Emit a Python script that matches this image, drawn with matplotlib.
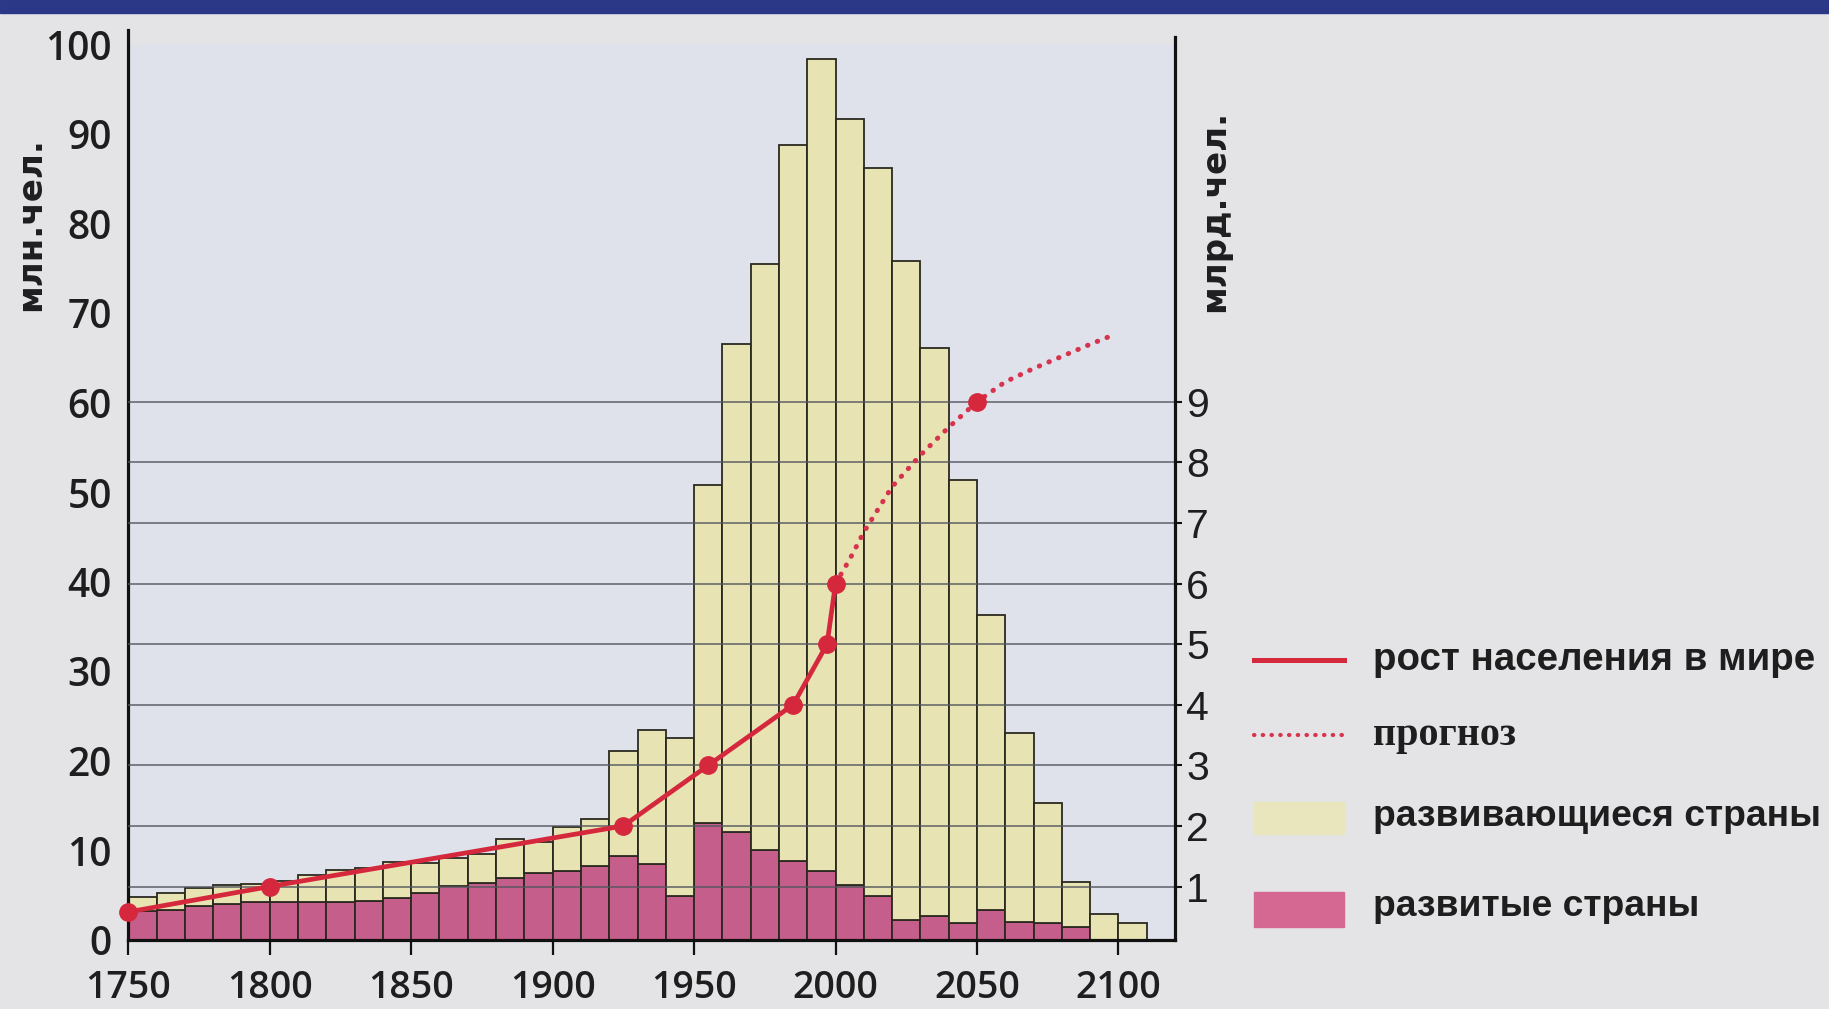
import matplotlib
matplotlib.use("Agg")
import matplotlib.pyplot as plt
from matplotlib.lines import Line2D
from matplotlib.patches import Rectangle

# ---------------- data ----------------
decades = list(range(1750, 2101, 10))
# average yearly growth per decade, million people (top of stacked bar)
total_growth = [4.8, 5.3, 5.8, 6.1, 6.3, 6.6, 7.3, 7.8, 8.0, 8.7,
                8.6, 9.2, 9.6, 11.3, 11.0, 12.6, 13.5, 21.1, 23.5, 22.6,
                50.8, 66.6, 75.5, 88.8, 98.4, 91.7, 86.3, 75.9, 66.1, 51.4,
                36.3, 23.1, 15.3, 6.5, 2.95, 1.85]
developed_growth = [3.2, 3.4, 3.8, 4.0, 4.3, 4.3, 4.3, 4.3, 4.4, 4.7,
                    5.3, 6.0, 6.4, 6.9, 7.5, 7.7, 8.3, 9.4, 8.5, 4.9,
                    13.1, 12.1, 10.1, 8.8, 7.7, 6.1, 4.9, 2.2, 2.7, 1.95,
                    3.3, 2.0, 1.85, 1.5, 0.0, 0.0]
developing_growth = [t - d for t, d in zip(total_growth, developed_growth)]

# world population, billion people
hist_years = [1750, 1800, 1925, 1955, 1985, 1997, 2000]
hist_pop = [0.58, 1.0, 2.0, 3.0, 4.0, 5.0, 6.0]
fc_years = [2000, 2005, 2010, 2020, 2030, 2040, 2050, 2060, 2070, 2080, 2090, 2098]
fc_pop = [6.0, 6.4, 6.85, 7.6, 8.12, 8.58, 9.0, 9.33, 9.55, 9.75, 9.95, 10.1]
fc_mark_years = [2050]
fc_mark_pop = [9.0]

left_ticks = list(range(0, 101, 10))
right_ticks = list(range(1, 10))
x_ticks = list(range(1750, 2101, 50))

left_title = "млн.чел."
right_title = "млрд.чел."
legend_labels = ["рост населения в мире", "прогноз",
                 "развивающиеся страны", "развитые страны"]

# ---------------- style ----------------
W, H = 1829, 1009
FIG_BG = "#e4e4e7"
AX_BG = "#dfe2ea"
YELLOW = "#e8e3b3"
PINK = "#c65e8c"
EDGE = "#2a2920"
RED = "#d5283d"
RED_DOT = "#d8334d"
NAVY = "#2b3887"
TXT = "#1e1e1e"

def fx(px):
    return px / W

def fy(py):
    return 1 - py / H

fig = plt.figure(figsize=(W / 100, H / 100), dpi=100, facecolor=FIG_BG)
x0, x1, ybot, ytop = 128.3, 1175, 940, 45
ax = fig.add_axes([fx(x0), fy(ybot), fx(x1 - x0), (ybot - ytop) / H])
ax.set_facecolor(AX_BG)

ax.bar(decades, developed_growth, width=10, align="edge", color=PINK,
       edgecolor=EDGE, linewidth=1.3, zorder=2)
ax.bar(decades, developing_growth, width=10, align="edge", bottom=developed_growth,
       color=YELLOW, edgecolor=EDGE, linewidth=1.3, zorder=2)

ax.set_xlim(1750, 2120)
ax.set_ylim(0, 100)

num_font = ["Open Sans", "DejaVu Sans"]
ax.set_yticks(left_ticks, labels=[str(v) for v in left_ticks],
              fontfamily=num_font, fontweight="semibold", fontsize=28, color=TXT)
ax.set_xticks(x_ticks, labels=[str(v) for v in x_ticks],
              fontfamily=num_font, fontweight="semibold", fontsize=27, color=TXT)
ax.tick_params(axis="y", length=0, pad=12)
ax.tick_params(axis="x", length=11, width=1.6, color="#111111", direction="out", pad=10)

for s in ["top", "right"]:
    ax.spines[s].set_visible(False)
ax.spines["left"].set_linewidth(2.3)
ax.spines["bottom"].set_linewidth(2.3)
ax.spines["left"].set_color("#111111")
ax.spines["bottom"].set_color("#111111")
ax.spines["left"].set_bounds(0, 101.7)

ax.set_ylabel(left_title, fontfamily=["DejaVu Sans"], fontweight="bold",
              fontsize=24.5, color=TXT)
ax.yaxis.set_label_coords(-0.0775, 0.80)

# right axis: world population
ax2 = ax.twinx()
ax2.set_ylim(0.117, 14.89)
ax2.set_yticks(right_ticks, labels=[str(v) for v in right_ticks],
               fontfamily=["Liberation Sans", "DejaVu Sans"], fontsize=29.5, color=TXT)
ax2.tick_params(axis="y", length=5, width=1.5, direction="out", pad=3, color="#111111")
ax2.grid(True, axis="y", color="#52555e", linewidth=1.2, alpha=0.85)
ax2.set_axisbelow(True)
for s in ["top", "left", "bottom"]:
    ax2.spines[s].set_visible(False)
ax2.spines["right"].set_linewidth(2.3)
ax2.spines["right"].set_color("#111111")
ax2.spines["right"].set_bounds(0.117, 15.03)
ax2.set_ylabel(right_title, fontfamily=["DejaVu Sans"], fontweight="bold",
               fontsize=24.5, color=TXT, rotation=90)
ax2.yaxis.set_label_coords(1.022, 0.815)

ax2.plot(fc_years, fc_pop, color=RED_DOT, linewidth=3.6,
         linestyle=(0, (0.1, 2.0)), dash_capstyle="round", zorder=3, clip_on=False)
ax2.plot(fc_mark_years, fc_mark_pop, "o", color=RED, markersize=12.5, zorder=4)
ax2.plot(hist_years, hist_pop, color=RED, linewidth=3.4, marker="o",
         markersize=12.5, zorder=4, clip_on=False, solid_joinstyle="round")

# top band
fig.add_artist(Rectangle((0, fy(13)), 1, 13 / H, transform=fig.transFigure,
                         color=NAVY, zorder=10))

# legend (drawn manually to match layout)
lx0, lx1, tx = 1254, 1344, 1373
fig.add_artist(Line2D([fx(lx0), fx(lx1)], [fy(660), fy(660)], color=RED,
                      linewidth=3.6, transform=fig.transFigure))
fig.add_artist(Line2D([fx(lx0), fx(lx1)], [fy(735), fy(735)], color=RED_DOT,
                      linewidth=3.0, linestyle=(0, (0.1, 2.0)), dash_capstyle="round",
                      transform=fig.transFigure))
fig.add_artist(Rectangle((fx(lx0), fy(834)), fx(lx1 - lx0), 32 / H,
                         transform=fig.transFigure, color="#e9e6bd"))
fig.add_artist(Rectangle((fx(lx0), fy(927)), fx(lx1 - lx0), 35 / H,
                         transform=fig.transFigure, color="#d46892"))

sans_b = ["Liberation Sans", "DejaVu Sans"]
fig.text(fx(tx), fy(660), legend_labels[0], fontfamily=sans_b, fontweight="bold",
         fontsize=27.7, color=TXT, va="center", ha="left")
fig.text(fx(tx), fy(735), legend_labels[1], fontfamily=["Liberation Serif", "DejaVu Serif"],
         fontweight="bold", fontsize=29, color=TXT, va="center", ha="left")
fig.text(fx(tx), fy(817), legend_labels[2], fontfamily=sans_b, fontweight="bold",
         fontsize=26.8, color=TXT, va="center", ha="left")
fig.text(fx(tx), fy(907), legend_labels[3], fontfamily=sans_b, fontweight="bold",
         fontsize=26.8, color=TXT, va="center", ha="left")

fig.savefig("out.png", dpi=100, facecolor=FIG_BG)
